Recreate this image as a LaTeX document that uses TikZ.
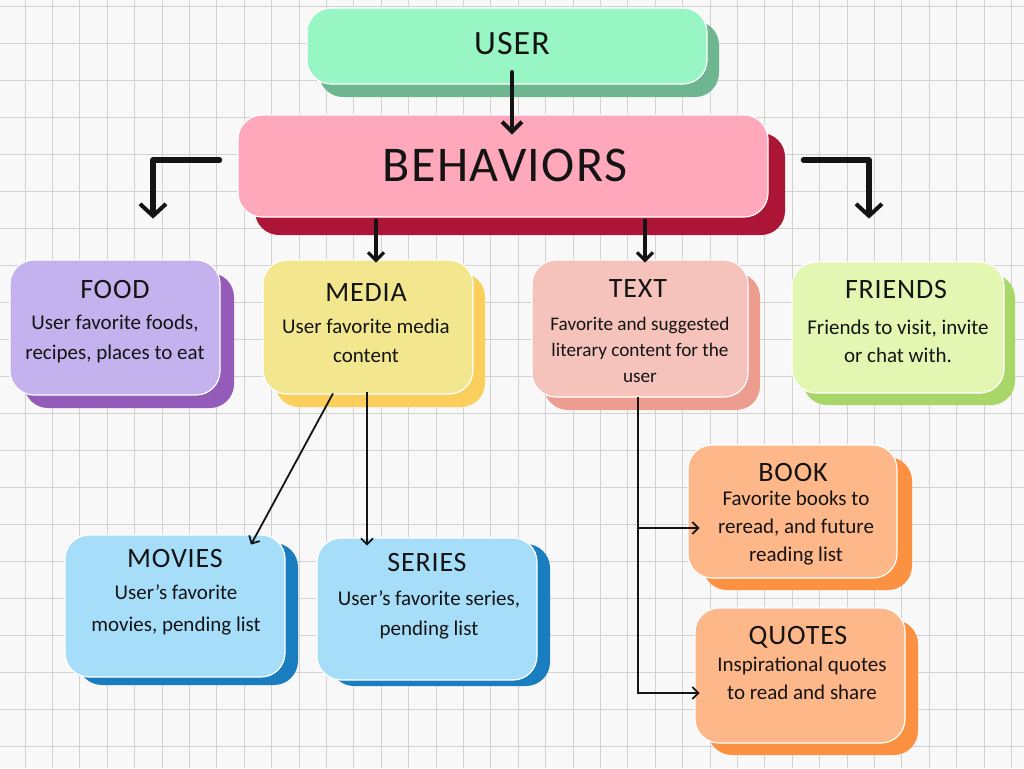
\documentclass[tikz,border=0pt]{standalone}
\usepackage{fontspec}
\setmainfont{Carlito}
\newfontfamily\ttlfont[LetterSpace=3]{Carlito}
\usetikzlibrary{arrows.meta,shadows}
\definecolor{bg}{HTML}{F8F8F8}
\definecolor{gridc}{HTML}{D2D2D2}
\definecolor{ink}{HTML}{141414}
\definecolor{userF}{HTML}{98F5C4}\definecolor{userS}{HTML}{6DB690}
\definecolor{behF}{HTML}{FFA8BB}\definecolor{behS}{HTML}{AC1535}
\definecolor{foodF}{HTML}{C4B2EE}\definecolor{foodS}{HTML}{955BB9}
\definecolor{mediaF}{HTML}{F2E78E}\definecolor{mediaS}{HTML}{FACF5B}
\definecolor{textF}{HTML}{F5C3BB}\definecolor{textS}{HTML}{EC9D8F}
\definecolor{friendF}{HTML}{E3F6B2}\definecolor{friendS}{HTML}{A9D669}
\definecolor{blueF}{HTML}{A6DEFA}\definecolor{blueS}{HTML}{1A7DBF}
\definecolor{orF}{HTML}{FDB789}\definecolor{orS}{HTML}{FB9141}
\begin{document}
\begin{tikzpicture}[x=0.5pt,y=-0.5pt,
  gridline/.style={draw=gridc,line width=0.5pt},
  box/.style n args={4}{rectangle,rounded corners=12pt,inner sep=0pt,fill=#1,
     general shadow={fill=#2,shadow xshift=#3,shadow yshift=#4},
     postaction={draw=white,line width=0.6pt}},
  ttl/.style={font=\ttlfont\fontsize{14}{16}\selectfont,text=ink,inner sep=0pt},
  body/.style={font=\fontsize{10.5}{#1}\selectfont,align=center,text=ink,inner sep=0pt},
  bigarrow/.style={draw=ink,line width=2.6pt,line cap=round,line join=round,
     -{Straight Barb[length=6pt,width=13pt,line width=2pt]}},
  midarrow/.style={draw=ink,line width=2pt,line cap=round,
     -{Straight Barb[length=4pt,width=8pt,line width=1.6pt]}},
  thinarrow/.style={draw=ink,line width=0.9pt,
     -{Straight Barb[length=3pt,width=6pt,line width=0.9pt]}}
]
\useasboundingbox (0,0) rectangle (1024,768);
\fill[bg] (0,0) rectangle (1024,768);
\foreach \i in {0,...,37} \draw[gridline] ({-2.4+27.4*\i},0) -- ({-2.4+27.4*\i},768);
\foreach \j in {0,...,20} \draw[gridline] (0,{6+37*\j}) -- (1024,{6+37*\j});

% boxes
\node[box={userF}{userS}{6pt}{-6.5pt},minimum width=200pt,minimum height=38pt] (user) at (507,46) {};
\node[box={behF}{behS}{8.5pt}{-9pt},minimum width=265pt,minimum height=51pt] (beh) at (503,166) {};
\node[box={foodF}{foodS}{7pt}{-6.5pt},minimum width=105pt,minimum height=67.5pt] (food) at (115,327.5) {};
\node[box={mediaF}{mediaS}{6pt}{-6.5pt},minimum width=105pt,minimum height=67pt] (media) at (368,327) {};
\node[box={textF}{textS}{6pt}{-6.5pt},minimum width=108pt,minimum height=68.5pt] (text) at (640,328.5) {};
\node[box={friendF}{friendS}{5.5pt}{-6pt},minimum width=106pt,minimum height=65.5pt] (friends) at (898,327.5) {};
\node[box={blueF}{blueS}{6.5pt}{-4pt},minimum width=110pt,minimum height=71pt] (movies) at (175,606) {};
\node[box={blueF}{blueS}{6.5pt}{-3pt},minimum width=110pt,minimum height=71pt] (series) at (427,609) {};
\node[box={orF}{orS}{7.5pt}{-6pt},minimum width=104.5pt,minimum height=66.5pt] (book) at (792.5,511.5) {};
\node[box={orF}{orS}{6.5pt}{-6pt},minimum width=105pt,minimum height=67.5pt] (quotes) at (800,675.5) {};

% texts
\node[ttl,font=\ttlfont\fontsize{17}{20}\selectfont] (userT) at (512,44) {USER};
\node[ttl,font=\ttlfont\fontsize{25}{28}\selectfont] (behT) at (505,165) {BEHAVIORS};
\node[ttl] (foodT) at (115,289) {FOOD};
\node[body=15pt] (foodB) at (115,339) {User favorite foods,\\recipes, places to eat};
\node[ttl] (mediaT) at (366,293) {MEDIA};
\node[body=14.5pt] (mediaB) at (366,341) {User favorite media\\content};
\node[ttl] (textT) at (638,289) {TEXT};
\node[body=13pt,font=\fontsize{9.6}{13}\selectfont] (textB) at (640,350) {Favorite and suggested\\literary content for the\\user};
\node[ttl] (friendsT) at (896,289) {FRIENDS};
\node[body=14pt] (friendsB) at (898,341) {Friends to visit, invite\\or chat with.};
\node[ttl] (moviesT) at (175,558) {MOVIES};
\node[body=16pt] (moviesB) at (176,610) {User's favorite\\movies, pending list};
\node[ttl] (seriesT) at (427,562) {SERIES};
\node[body=15pt] (seriesB) at (429,615) {User's favorite series,\\pending list};
\node[ttl] (bookT) at (793,472) {BOOK};
\node[body=14pt] (bookB) at (796,528) {Favorite books to\\reread, and future\\reading list};
\node[ttl] (quotesT) at (798,637) {QUOTES};
\node[body=14pt] (quotesB) at (802,678) {Inspirational quotes\\to read and share};

% connectors
\draw[bigarrow,line width=2.4pt,-{Straight Barb[length=5pt,width=10pt,line width=2pt]}]
  ([xshift=2.5pt,yshift=6pt]user.south) -- ([xshift=4.5pt,yshift=-10pt]beh.north);
\draw[bigarrow] ([xshift=-9pt,yshift=3pt]beh.west) -| ([xshift=19pt,yshift=20.5pt]food.north);
\draw[bigarrow] ([xshift=17.5pt,yshift=3pt]beh.east) -| ([xshift=-14.5pt,yshift=21.5pt]friends.north);
\draw[midarrow] ([xshift=-63.5pt,yshift=-1.5pt]beh.south) -- ([xshift=4pt,yshift=-1.5pt]media.north);
\draw[midarrow] ([xshift=71pt,yshift=-1.5pt]beh.south) -- ([xshift=2.5pt,yshift=-1.5pt]text.north);
\draw[thinarrow] ([xshift=-17.5pt,yshift=0.5pt]media.south) -- ([xshift=38pt,yshift=-5pt]movies.north);
\draw[thinarrow] ([xshift=-0.5pt,yshift=1pt]media.south) -- ([xshift=-30pt,yshift=-4pt]series.north);
\draw[thinarrow] ([xshift=-1pt]text.south) |- ([xshift=6pt,yshift=-8.25pt]book.west);
\draw[thinarrow] ([xshift=-1pt]text.south) |- ([xshift=2.5pt,yshift=-8.75pt]quotes.west);
\end{tikzpicture}
\end{document}
